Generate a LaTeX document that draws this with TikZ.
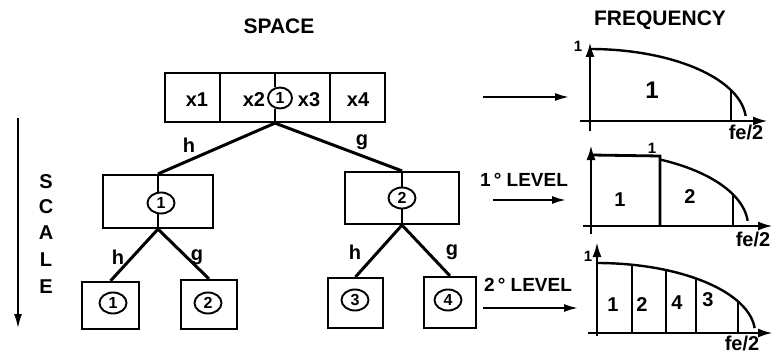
\documentclass[tikz,border=0pt]{standalone}
\usepackage{fontspec}
\setmainfont{Liberation Sans}
\usetikzlibrary{arrows.meta,shapes.geometric}
\begin{document}
\begin{tikzpicture}[x=1pt,y=-1pt,
  boxst/.style={draw,line width=2.2pt,inner sep=0pt},
  divl/.style={line width=2.6pt},
  circst/.style={draw,ellipse,fill=white,line width=1.9pt,inner sep=0pt,minimum width=27pt,minimum height=21pt,font=\fontsize{16}{16}\selectfont\bfseries},
  lab/.style={inner sep=0pt,font=\fontsize{20}{20}\selectfont\bfseries},
  title/.style={inner sep=0pt,font=\fontsize{21}{21}\selectfont\bfseries},
  lvl/.style={inner sep=0pt,font=\fontsize{19}{19}\selectfont\bfseries},
  fe/.style={inner sep=0pt,font=\fontsize{20}{20}\selectfont\bfseries},
  small/.style={inner sep=0pt,font=\fontsize{15}{15}\selectfont\bfseries},
  tree/.style={line width=3pt},
  arr/.style={line width=2pt,-{Latex[length=14pt,width=8pt]}},
  axis/.style={line width=2.6pt,-{Latex[length=15pt,width=9pt]}},
  curve/.style={line width=2.4pt},
  tick/.style={line width=2pt}]
\useasboundingbox (0,0) rectangle (774,353);

% titles
\node[title] (tsp) at (279,26) {SPACE};
\node[title] (tfr) at (660,20) {FREQUENCY};

% scale arrow
\coordinate (sc1) at (18,118);
\coordinate (sc2) at (18,328);
\draw[line width=1.5pt,-{Latex[length=14pt,width=8pt]}] (sc1) -- (sc2);
\node[lab] (sS) at (46,182) {S};
\node[lab] (sC) at (46,207) {C};
\node[lab] (sA) at (46,233) {A};
\node[lab] (sL) at (46,260) {L};
\node[lab] (sE) at (46,287) {E};

% top box
\node[boxst,minimum width=220pt,minimum height=49pt] (top) at (275,97.5) {};
\draw[divl] ([xshift=-55pt]top.north) -- ([xshift=-55pt]top.south);
\draw[divl] ([xshift=55pt]top.north) -- ([xshift=55pt]top.south);
\node[lab] (x1) at (197,100) {x1};
\node[lab] (x2) at (254,100) {x2};
\node[lab] (x3) at (309,100) {x3};
\node[lab] (x4) at (358,100) {x4};
\node[circst,minimum width=24pt] (c0) at (280,98) {1};
\draw[divl] (top.north) -- (top.north |- c0.north);
\draw[divl] (top.south) -- (top.south |- c0.south);

% level 1
\node[boxst,minimum width=110pt,minimum height=53pt] (L1) at (158,201.5) {};
\node[circst] (c1) at (161,203) {1};
\draw[divl] (L1.north) -- (L1.north |- c1.north);
\draw[divl] (L1.south) -- (L1.south |- c1.south);
\node[boxst,minimum width=114pt,minimum height=52pt] (R1) at (402,198) {};
\node[circst] (c2) at (402,198) {2};
\draw[divl] (R1.north) -- (c2.north);
\draw[divl] (R1.south) -- (c2.south);

% level 2
\node[boxst,minimum width=57pt,minimum height=47pt] (B1) at (110.5,305.5) {};
\node[circst] (d1) at (113,303) {1};
\node[boxst,minimum width=56pt,minimum height=49pt] (B2) at (209,304.5) {};
\node[circst] (d2) at (208,303) {2};
\node[boxst,minimum width=55pt,minimum height=50pt] (B3) at (355.5,303) {};
\node[circst] (d3) at (355,300) {3};
\node[boxst,minimum width=52pt,minimum height=51pt] (B4) at (450,302.5) {};
\node[circst] (d4) at (448,300) {4};

% tree connectors
\draw[tree] (top.south) -- (L1.north);
\draw[tree] (top.south) -- (R1.north);
\draw[tree] (L1.south) -- (B1.north);
\draw[tree] (L1.south) -- (B2.north);
\draw[tree] (R1.south) -- (B3.north);
\draw[tree] (R1.south) -- (B4.north);

\node[lab] (h0) at (189,145) {h};
\node[lab] (g0) at (362,142) {g};
\node[lab] (h1) at (118,257) {h};
\node[lab] (g1) at (197,257) {g};
\node[lab] (h2) at (355,252) {h};
\node[lab] (g2) at (452,252) {g};

% level arrows
\coordinate (a0s) at (483,97);
\coordinate (a0e) at (569,97);
\draw[arr] (a0s) -- (a0e);
\node[lvl] (lv1) at (524,180) {1\,° LEVEL};
\coordinate (a1s) at (493,200);
\coordinate (a1e) at (566,200);
\draw[arr] (a1s) -- (a1e);
\node[lvl] (lv2) at (528,285) {2\,° LEVEL};
\coordinate (a2s) at (483,308);
\coordinate (a2e) at (578,308);
\draw[arr] (a2s) -- (a2e);

% ---- top plot
\draw[axis] (590,131) -- (590,42);
\draw[axis] (580,121) -- (768,121);
\draw[curve] plot[domain=0:86,samples=50] ({590+156*sin(\x)},{121-72*cos(\x)});
\draw[tick] ({590+156*sin(65)},{121-72*cos(65)}) -- ({590+156*sin(65)},121);
\node[small] (p0a) at (578,46) {1};
\node[title,font=\fontsize{24}{24}\selectfont\bfseries] (p0b) at (652,90) {1};
\node[fe] (p0f) at (746,132) {fe/2};

% ---- middle plot
\draw[axis] (591,234) -- (591,145);
\draw[axis] (583,226) -- (773,226);
\draw[line width=2.8pt] (591,155) -- (660,156) -- (660,226);
\draw[curve] plot[domain=26:86,samples=40] ({591+157*sin(\x)},{226-74*cos(\x)});
\draw[tick] ({591+157*sin(65)},{226-74*cos(65)}) -- ({591+157*sin(65)},226);
\node[small] (p1a) at (652,148) {1};
\node[lab] (p1b) at (620,200) {1};
\node[lab] (p1c) at (690,197) {2};
\node[fe] (p1f) at (753,239) {fe/2};

% ---- bottom plot
\draw[axis] (597,336) -- (597,242);
\draw[axis] (588,333) -- (773,333);
\draw[curve] plot[domain=0:86,samples=50] ({597+158*sin(\x)},{333-70*cos(\x)});
\foreach \a in {12.8,25.9,38.8,63.2}
  \draw[tick] ({597+158*sin(\a)},{333-70*cos(\a)}) -- ({597+158*sin(\a)},333);
\node[small] (p2a) at (588,256) {1};
\node[lab] (p2b) at (613,305) {1};
\node[lab] (p2c) at (642,305) {2};
\node[lab] (p2d) at (677,303) {4};
\node[lab] (p2e) at (708,300) {3};
\node[fe] (p2f) at (742,343) {fe/2};
\end{tikzpicture}
\end{document}
